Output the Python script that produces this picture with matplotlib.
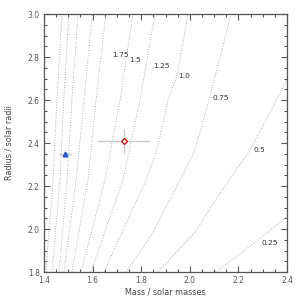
import matplotlib
matplotlib.use("Agg")
import matplotlib.pyplot as plt
from matplotlib.ticker import MultipleLocator

# Isochrone contour lines (age in Gyr): points (mass, radius)
ages = [0.25, 0.5, 0.75, 1.0, 1.25, 1.5, 1.75, 2.0, 2.25, 2.5, 2.75]
iso_mass = {
    0.25: [2.104, 2.207, 2.400],
    0.5:  [1.869, 2.021, 2.133, 2.248, 2.400],
    0.75: [1.737, 1.795, 1.849, 1.960, 2.021, 2.079, 2.170],
    1.0:  [1.647, 1.820, 1.865, 1.910, 1.947, 1.993],
    1.25: [1.593, 1.725, 1.795, 1.857],
    1.5:  [1.552, 1.651, 1.713, 1.766],
    1.75: [1.515, 1.581, 1.614, 1.655],
    2.0:  [1.482, 1.532, 1.565, 1.598],
    2.25: [1.462, 1.495, 1.515, 1.540],
    2.5:  [1.433, 1.466, 1.481, 1.503],
    2.75: [1.408, 1.437, 1.453, 1.474],
}
iso_radius = {
    0.25: [1.800, 1.884, 2.056],
    0.5:  [1.800, 1.986, 2.181, 2.367, 2.693],
    0.75: [1.800, 1.893, 1.986, 2.228, 2.367, 2.600, 3.000],
    1.0:  [1.800, 2.228, 2.367, 2.600, 2.712, 3.000],
    1.25: [1.800, 2.228, 2.600, 3.000],
    1.5:  [1.800, 2.228, 2.600, 3.000],
    1.75: [1.800, 2.228, 2.600, 3.000],
    2.0:  [1.800, 2.228, 2.600, 3.000],
    2.25: [1.800, 2.228, 2.600, 3.000],
    2.5:  [1.800, 2.228, 2.600, 3.000],
    2.75: [1.800, 2.228, 2.600, 3.000],
}
label_text = ["1.75", "1.5", "1.25", "1.0", "0.75", "0.5", "0.25"]
label_mass = [1.680, 1.750, 1.849, 1.951, 2.095, 2.264, 2.297]
label_radius = [2.809, 2.786, 2.760, 2.712, 2.609, 2.367, 1.935]

# Measured stars
red_mass, red_radius, red_merr, red_rerr = 1.729, 2.409, 0.109, 0.055
blue_mass, blue_radius, blue_merr, blue_rerr = 1.486, 2.349, 0.025, 0.012

fig = plt.figure(figsize=(3, 3), dpi=100)
ax = fig.add_axes([0.1467, 0.0933, 0.81, 0.86])

for a in ages:
    ax.plot(iso_mass[a], iso_radius[a], linestyle=(0, (1, 1.8)), color="#a0a0a0",
            linewidth=0.65)

for t, m, r in zip(label_text, label_mass, label_radius):
    ax.text(m, r, t, fontsize=5.3, color="#333333", ha="left", va="center")

ax.errorbar([red_mass], [red_radius], xerr=[red_merr], yerr=[red_rerr], fmt="none",
            ecolor="#c8c8c8", elinewidth=1.0, capsize=0)
ax.plot([red_mass], [red_radius], marker="D", markersize=3.0, mfc="white",
        mec="#dd1111", mew=1.0, linestyle="none")
ax.errorbar([blue_mass], [blue_radius], xerr=[blue_merr], yerr=[blue_rerr], fmt="none",
            ecolor="#c8c8c8", elinewidth=1.0, capsize=0)
ax.plot([blue_mass], [blue_radius], marker="^", markersize=3.4, mfc="#2255dd",
        mec="#2255dd", linestyle="none")

ax.set_xlim(1.4, 2.4)
ax.set_ylim(1.8, 3.0)
ax.xaxis.set_major_locator(MultipleLocator(0.2))
ax.xaxis.set_minor_locator(MultipleLocator(0.05))
ax.yaxis.set_major_locator(MultipleLocator(0.2))
ax.yaxis.set_minor_locator(MultipleLocator(0.05))
ax.tick_params(which="both", direction="in", top=True, right=True, colors="#555555",
               labelsize=5.5, width=0.8)
ax.tick_params(which="major", length=4.5, pad=3)
ax.tick_params(which="minor", length=2.5)
for s in ax.spines.values():
    s.set_color("#555555")
    s.set_linewidth(0.9)

ax.set_xlabel("Mass / solar masses", fontsize=5.8, color="#444444", labelpad=2)
ax.set_ylabel("Radius / solar radii", fontsize=5.8, color="#444444", labelpad=10)

fig.savefig("out.png", dpi=100)
